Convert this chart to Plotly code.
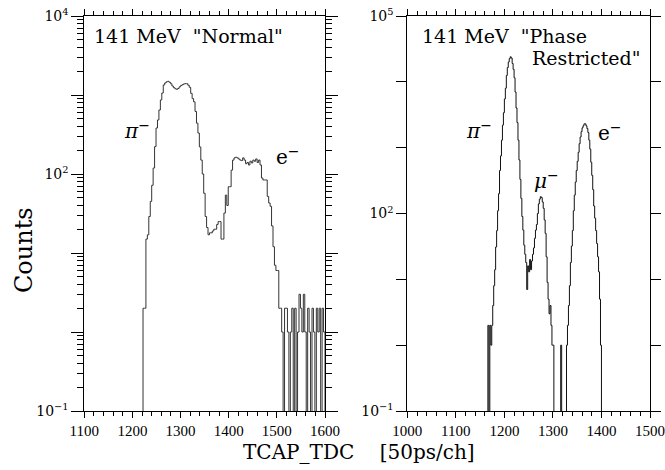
import plotly.graph_objects as go

# ---------------- data ----------------
# Left panel: 141 MeV "Normal"  (bins of 3 channels starting at 1222)
left_bin_start = 1222
left_bin_width = 3
left_counts = [
    2, 2, 15, 17, 29, 45, 72, 119, 222, 382,
    483, 646, 865, 1060, 1340, 1420, 1470, 1490, 1450, 1390,
    1300, 1240, 1200, 1180, 1210, 1270, 1320, 1350, 1380, 1390,
    1390, 1330, 1250, 1050, 900, 820, 620, 440, 330, 220,
    150, 100, 57, 29, 21, 17, 18, 18, 19, 20,
    20, 23, 25, 25, 15, 15, 32, 54, 40, 69,
    69, 112, 150, 160, 163, 160, 155, 150, 148, 160,
    150, 135, 140, 130, 145, 138, 150, 145, 155, 140,
    150, 130, 89, 84, 84, 84, 52, 43, 39, 22,
    12, 7, 6, 6, 2, 2, 1, 0, 2, 2,
    1, 0, 1, 2, 0, 2, 0, 1, 3, 2,
    1, 3, 1, 0, 2, 1, 0, 2, 1, 0,
    2, 1, 2, 0, 2, 1,
]

# Right panel: 141 MeV "Phase Restricted"  (bins of 2 channels starting at 1166)
right_bin_start = 1166
right_bin_width = 2
right_counts = [
    2, 0, 2, 1, 2, 4, 8, 14, 31, 55,
    110, 200, 450, 750, 1300, 2200, 3400, 5500, 8000, 12500,
    16500, 20000, 22500, 24000, 23000, 19000, 15500, 11500, 7000, 4000,
    2400, 1300, 650, 330, 170, 90, 56, 33, 24, 18,
    7, 16, 13, 20, 14, 19, 24, 30, 42, 56,
    68, 100, 140, 165, 180, 175, 150, 120, 80, 50,
    22, 9, 5, 3, 4, 2, 1, 1, 0, 0,
    0, 0, 0, 0, 0, 1, 0, 0, 0, 0,
    0, 1, 2, 4, 8, 18, 32, 55, 110, 190,
    300, 450, 620, 850, 1150, 1450, 1750, 2000, 2150, 2300,
    2300, 2150, 1950, 1700, 1300, 950, 600, 380, 230, 130,
    85, 55, 35, 22, 13, 5, 1,
]

left_xrange = [1100, 1600]
right_xrange = [1000, 1500]
left_decades = [-1, 4]
right_decades = [-1, 5]
x_ticks_left = [1100, 1200, 1300, 1400, 1500, 1600]
x_ticks_right = [1000, 1100, 1200, 1300, 1400, 1500]

FLOOR = 1e-4  # zero bins are drawn below the axis bottom


def step_xy(start, width, counts, xr):
    xs = [xr[0]]
    ys = [FLOOR]
    for i, c in enumerate(counts):
        xs.append(start + i * width)
        ys.append(c if c > 0 else FLOOR)
    end = start + len(counts) * width
    xs += [end, xr[1]]
    ys += [FLOOR, FLOOR]
    return xs, ys


FONT = "DejaVu Serif"
TICKFONT_X = dict(family="Liberation Serif", size=15, color="black")
fig = go.Figure()

lx, ly = step_xy(left_bin_start, left_bin_width, left_counts, left_xrange)
rx, ry = step_xy(right_bin_start, right_bin_width, right_counts, right_xrange)

fig.add_trace(go.Scatter(x=lx, y=ly, mode="lines", line=dict(color="#333", width=1, shape="hv"),
                         xaxis="x", yaxis="y", showlegend=False, hoverinfo="skip"))
fig.add_trace(go.Scatter(x=rx, y=ry, mode="lines", line=dict(color="#111", width=1, shape="hv"),
                         xaxis="x2", yaxis="y2", showlegend=False, hoverinfo="skip"))


def dec_text(e):
    return "10<sup>%s</sup>" % (str(e).replace("-", "\u2212"))


left_tickvals = [10.0 ** e for e in range(left_decades[0], left_decades[1] + 1)]
left_ticktext = [dec_text(e) if e in (-1, 2, 4) else "" for e in range(left_decades[0], left_decades[1] + 1)]
right_tickvals = [10.0 ** e for e in range(right_decades[0], right_decades[1] + 1)]
right_ticktext = [dec_text(e) if e in (-1, 2, 5) else "" for e in range(right_decades[0], right_decades[1] + 1)]
left_minor = [m * 10.0 ** e for e in range(left_decades[0], left_decades[1]) for m in range(2, 10)]

W, H = 665, 470
ax_common = dict(showline=True, linecolor="black", linewidth=1, mirror="ticks", showgrid=False,
                 zeroline=False, tickcolor="black", tickwidth=1, automargin=False,
                 ticklabeloverflow="allow")
yfont = dict(tickfont=dict(family=FONT, size=14, color="black"))

fig.update_layout(
    width=W, height=H, margin=dict(l=0, r=0, t=0, b=0),
    paper_bgcolor="white", plot_bgcolor="white",
    xaxis=dict(domain=[84.3 / W, 325 / W], range=left_xrange, anchor="y",
               tickmode="array", tickvals=x_ticks_left, ticks="outside", ticklen=6,
               minor=dict(dtick=20, ticks="outside", ticklen=4, tickcolor="black"),
               tickfont=TICKFONT_X, **ax_common),
    yaxis=dict(domain=[1 - 411 / H, 1 - 16 / H], type="log", range=left_decades, anchor="x",
               tickmode="array", tickvals=left_tickvals, ticktext=left_ticktext,
               ticks="outside", ticklen=12,
               minor=dict(tickmode="array", tickvals=left_minor, ticks="outside", ticklen=6,
                          tickcolor="black"),
               **yfont, **ax_common),
    xaxis2=dict(domain=[407.3 / W, 650 / W], range=right_xrange, anchor="y2",
                tickmode="array", tickvals=x_ticks_right, ticks="outside", ticklen=6,
                minor=dict(dtick=20, ticks="outside", ticklen=4, tickcolor="black"),
                tickfont=TICKFONT_X, **ax_common),
    yaxis2=dict(domain=[1 - 411 / H, 1 - 16 / H], type="log", range=right_decades, anchor="x2",
                tickmode="array", tickvals=right_tickvals, ticktext=right_ticktext,
                ticks="outside", ticklen=10,
                **yfont, **ax_common),
)


def ann(text, x, y, size=18, xanchor="left", italic=False, align="left"):
    fig.add_annotation(text=text, x=x / W, y=1 - y / H, xref="paper", yref="paper",
                       xanchor=xanchor, yanchor="middle", showarrow=False, align=align,
                       font=dict(family=FONT, size=size, color="black",
                                 style="italic" if italic else "normal"))


ann("141 MeV &nbsp;\"Normal\"", 92, 36, 19)
ann("141 MeV &nbsp;\"Phase", 420, 36, 19)
ann("Restricted\"", 643, 58, 19, xanchor="right")
ann("\u03c0<sup>\u2212</sup>", 122, 130, 20, italic=True)
ann("e<sup>\u2212</sup>", 274, 156, 20)
ann("\u03c0<sup>\u2212</sup>", 464, 130, 20, italic=True)
ann("\u03bc<sup>\u2212</sup>", 532, 180, 20, italic=True)
ann("e<sup>\u2212</sup>", 596, 132, 20)
ann("TCAP_TDC&nbsp;&nbsp;&nbsp;&nbsp;[50ps/ch]", 359, 452, 20, xanchor="center")
fig.add_annotation(text="Counts", x=24 / W, y=1 - 250 / H, xref="paper", yref="paper",
                   textangle=-90, showarrow=False, xanchor="center", yanchor="middle",
                   font=dict(family=FONT, size=24, color="black"))

fig.write_html("out.html", config={"displayModeBar": False},
               post_script="document.body.style.margin='0px';document.body.style.padding='0px';")
